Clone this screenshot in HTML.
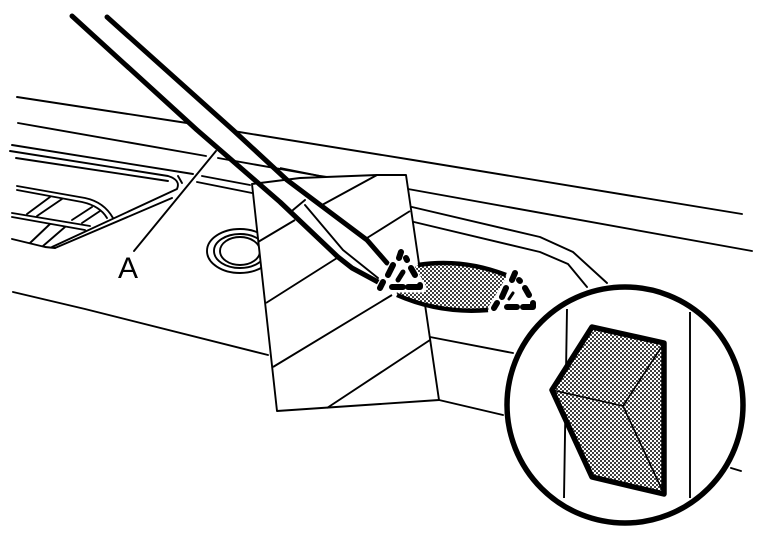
<!DOCTYPE html>
<html><head><meta charset="utf-8"><style>html,body{margin:0;padding:0;background:#fff}svg{display:block}</style></head><body>
<svg width="768" height="544" viewBox="0 0 768 544" xmlns="http://www.w3.org/2000/svg">
<defs>
<pattern id="d" width="4" height="4" patternUnits="userSpaceOnUse">
<rect width="4" height="4" fill="#fff"/>
<rect x="0.1" y="0.1" width="1.8" height="1.8" fill="#111"/>
<rect x="2.1" y="2.1" width="1.8" height="1.8" fill="#111"/>
</pattern>
</defs>
<rect width="768" height="544" fill="#fff"/>
<g fill="none" stroke="#000" stroke-width="1.9" stroke-linecap="round" stroke-linejoin="round">
<!-- long body lines -->
<path d="M17 97L187 123M233 131L413 160L742 214"/>
<path d="M18 123L206 156M218 158L320 176L408 189L752 251"/>
<path d="M412 207L540 237L573 252L607 283"/>
<path d="M414 222L540 252L568 264L587 287"/>
<path d="M13 292L85 309L268 355"/>
<path d="M430 337L513 353M439 400L503 415M731 468L741 471"/>
<!-- upper left trim -->
<path d="M12 145L193 174"/>
<path d="M10 151L168 176Q181 180 177 189L52 247"/>
<path d="M16 158L168 181"/>
<path d="M178 176L182 183"/>
<path d="M172 198L55 248"/>
<path d="M202 176L250 185M197 182L252 193"/>
<!-- grille -->
<path d="M17 186L85 198Q104 202 113 218"/>
<path d="M17 190L82 202Q100 206 107 218"/>
<path d="M12 213L90 226M12 217L85 230"/>
<path d="M12 239L45 247L55 248"/>
<path d="M27 214L50 197M37 216L62 199M72 220L92 207M82 223L100 211M30 243L50 224M43 246L65 227"/>
<!-- leader -->
<path d="M134 251L216 151"/>
<!-- washer -->
<ellipse cx="240" cy="251" rx="33" ry="22"/>
<ellipse cx="240" cy="251" rx="26" ry="17"/>
<ellipse cx="240" cy="251" rx="20" ry="14"/>
</g>
<!-- strip -->
<polygon points="252,184 277,411 439,400 406,175 377,175 300,178" fill="#fff" stroke="#000" stroke-width="1.9" stroke-linejoin="round"/>
<path d="M280 168L320 176" stroke="#000" stroke-width="1.9" fill="none"/>
<g fill="none" stroke="#000" stroke-width="1.9">
<path d="M258 242L295 220M322 205L377 175M266 303L337 258M367 238L410 211M273 367L392 295M327 408L430 340"/>
</g>
<!-- lens -->
<path d="M418 265Q460 258 506 275L510 290L488 310Q440 314 397 295L395 280Z" fill="url(#d)"/>
<path d="M418 265Q462 258 506 275M397 295Q440 314 488 310" fill="none" stroke="#000" stroke-width="4.5"/>
<!-- screwdriver -->
<g fill="none" stroke="#000" stroke-linecap="round" stroke-linejoin="round">
<path d="M72 16L197 130L280 202L338 257L352 268L378 282" stroke-width="5"/>
<path d="M107 17L233 130L287 180L367 240L387 263" stroke-width="5"/>
<path d="M293 210L305 200M305 205L343 250L378 278" stroke-width="1.9"/>
</g>
<!-- dashed triangles -->
<g fill="#fff" stroke="#fff" stroke-width="9" stroke-linejoin="round">
<path d="M401 252L380 288L422 288Z"/>
<path d="M514 273L493 308L533 308Z"/>
</g>
<g fill="none" stroke="#000" stroke-width="6" stroke-linecap="round" stroke-linejoin="round">
<path d="M401 252L399 258M393 265L388 275M383 282L380 288M392 287L403 287M408 287L420 287L420 285M415 275L411 268M407 260L406 258"/>
<path d="M515 273L512 280M506 288L502 297M497 303L494 308M507 307L517 307M523 307L533 307L533 303M529 295L525 288M520 281L519 280"/>
<path d="M403 272L398 280" stroke-width="5"/>
<path d="M513 293L509 299" stroke-width="3"/>
</g>
<!-- circle -->
<circle cx="625" cy="405" r="118" fill="#fff" stroke="#000" stroke-width="5.5"/>
<g fill="none" stroke="#000" stroke-width="1.9">
<path d="M567 309L564 498M690 312L690 498"/>
</g>
<polygon points="592,327 664,343 664,494 592,477 552,390" fill="url(#d)" stroke="#000" stroke-width="5.5" stroke-linejoin="round"/>
<path d="M552 390L623 406L664 343M623 406L664 494" fill="none" stroke="#000" stroke-width="1.6"/>
<text x="128" y="278" font-family="Liberation Sans, sans-serif" font-size="30" text-anchor="middle" fill="#000">A</text>
</svg>
</body></html>
